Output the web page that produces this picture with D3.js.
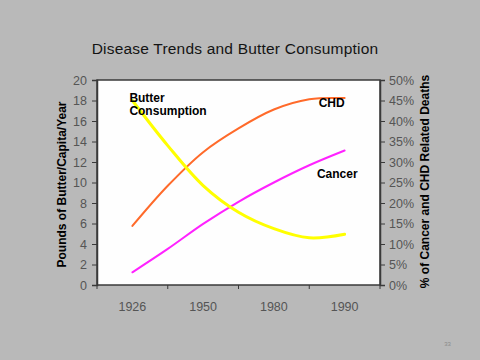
<!DOCTYPE html>
<html>
<head>
<meta charset="utf-8">
<script src="https://cdn.jsdelivr.net/npm/d3@7"></script>
<style>
  html, body { margin: 0; padding: 0; background: #b9b9b9; }
  svg { display: block; font-family: "Liberation Sans", Arial, sans-serif; }
</style>
</head>
<body>
<svg id="chart" width="480" height="360"></svg>
<script>
// ---- data ----
const categories = ["1926", "1950", "1980", "1990"];
// sample positions along the category axis (0 = first category, 3 = last)
const samplePos = [0, 0.5, 1, 1.5, 2, 2.5, 3];
const butterLbs = [18.0, 13.6, 9.7, 7.1, 5.5, 4.6, 4.95];      // left axis
const chdPct    = [14.4, 24.2, 32.4, 38.2, 42.8, 45.3, 45.6];   // right axis
const cancerPct = [3.1, 8.8, 14.9, 20.3, 25.0, 29.2, 32.8];     // right axis
const leftTicks  = [0, 2, 4, 6, 8, 10, 12, 14, 16, 18, 20];
const rightTicks = [0, 5, 10, 15, 20, 25, 30, 35, 40, 45, 50];

const svg = d3.select("#chart");
const W = 480, H = 360;
const plot = { left: 97, right: 380, top: 80, bottom: 285 };

svg.append("rect").attr("width", W).attr("height", H).attr("fill", "#b9b9b9");

// title
svg.append("text")
  .attr("x", 235).attr("y", 54)
  .attr("text-anchor", "middle")
  .attr("font-size", 15.5)
  .attr("fill", "#141414")
  .attr("letter-spacing", 0.2)
  .text("Disease Trends and Butter Consumption");

// scales
const xBand = d3.scaleBand().domain(categories).range([plot.left, plot.right]).padding(0);
const xLin = d3.scaleLinear()
  .domain([0, categories.length - 1])
  .range([xBand(categories[0]) + xBand.bandwidth() / 2,
          xBand(categories[categories.length - 1]) + xBand.bandwidth() / 2]);
const yL = d3.scaleLinear().domain([0, 20]).range([plot.bottom, plot.top]);
const yR = d3.scaleLinear().domain([0, 50]).range([plot.bottom, plot.top]);

// plot area
svg.append("rect")
  .attr("x", plot.left).attr("y", plot.top)
  .attr("width", plot.right - plot.left).attr("height", plot.bottom - plot.top)
  .attr("fill", "#fefefe").attr("stroke", "#3a3a3a").attr("stroke-width", 1.5);

// axes
const tickColor = "#555555";
const gL = svg.append("g").attr("transform", `translate(${plot.left},0)`)
  .call(d3.axisLeft(yL).tickValues(leftTicks).tickSize(5).tickPadding(5));
const gR = svg.append("g").attr("transform", `translate(${plot.right},0)`)
  .call(d3.axisRight(yR).tickValues(rightTicks).tickSize(5).tickPadding(4)
        .tickFormat(d => d + "%"));
const gX = svg.append("g").attr("transform", `translate(0,${plot.bottom})`)
  .call(d3.axisBottom(xBand).tickSize(0).tickPadding(17));
// band boundary ticks on x axis
const bounds = categories.map(c => xBand(c)).concat([plot.right]);
svg.append("g").selectAll("line").data(bounds).join("line")
  .attr("x1", d => d).attr("x2", d => d)
  .attr("y1", plot.bottom).attr("y2", plot.bottom + 4)
  .attr("stroke", "#3a3a3a").attr("stroke-width", 1);

[gL, gR, gX].forEach(g => {
  g.select(".domain").attr("stroke", "#3a3a3a").attr("stroke-width", 1.5);
  g.selectAll(".tick line").attr("stroke", "#3a3a3a");
  g.selectAll(".tick text")
    .attr("font-size", 12.5)
    .attr("fill", tickColor)
    .attr("font-family", "Liberation Sans, Arial, sans-serif");
});
gX.select(".domain").remove();

// axis titles
svg.append("text")
  .attr("transform", `translate(66,${(plot.top + plot.bottom) / 2 + 2}) rotate(-90)`)
  .attr("text-anchor", "middle")
  .attr("font-size", 12).attr("font-weight", "bold").attr("fill", "#000")
  .text("Pounds of Butter/Capita/Year");
svg.append("text")
  .attr("transform", `translate(429,${(plot.top + plot.bottom) / 2 - 1}) rotate(-90)`)
  .attr("text-anchor", "middle")
  .attr("font-size", 12).attr("font-weight", "bold").attr("fill", "#000")
  .text("% of Cancer and CHD Related Deaths");

// lines
function drawLine(vals, yScale, color, width) {
  const data = samplePos.map((p, i) => [p, vals[i]]);
  svg.append("path")
    .datum(data)
    .attr("fill", "none")
    .attr("stroke", color)
    .attr("stroke-width", width)
    .attr("stroke-linecap", "round")
    .attr("d", d3.line().x(d => xLin(d[0])).y(d => yScale(d[1])).curve(d3.curveCatmullRom.alpha(0.5)));
}
drawLine(chdPct, yR, "#ff6a2a", 2);
drawLine(cancerPct, yR, "#ff22ff", 2);
drawLine(butterLbs, yL, "#ffff00", 3);

// series labels
const lab = (x, y, t, anchor) => svg.append("text")
  .attr("x", x).attr("y", y).attr("text-anchor", anchor || "start")
  .attr("font-size", 12).attr("font-weight", "bold").attr("fill", "#000").text(t);
lab(xLin(0) - 3, yL(butterLbs[0]) + 1, "Butter");
lab(xLin(0) - 3, yL(butterLbs[0]) + 14.5, "Consumption");
lab(xLin(3), yR(chdPct[6]) + 9, "CHD", "end");
lab(xLin(3) + 13, yR(cancerPct[6]) + 27, "Cancer", "end");

// slide number
svg.append("text").attr("x", 447.5).attr("y", 345.5).attr("text-anchor", "middle")
  .attr("font-size", 6).attr("fill", "#8a8a8a").text("33");
</script>
</body>
</html>
